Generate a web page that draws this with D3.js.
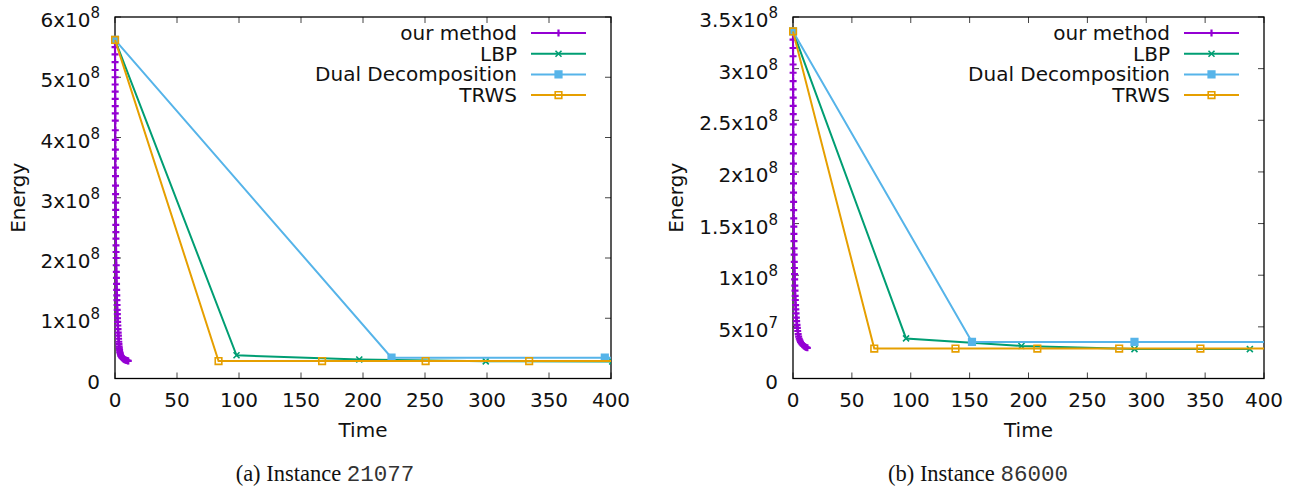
<!DOCTYPE html>
<html>
<head>
<meta charset="utf-8">
<script src="https://cdn.jsdelivr.net/npm/d3@7"></script>
<style>
  body { margin: 0; background: #fff; }
  svg text { font-family: "DejaVu Sans", sans-serif; fill: #111; }
</style>
</head>
<body>
<div id="chart"></div>
<script>
// ---- data (energy in units of 1e8) ----
var timeTicks = [0, 50, 100, 150, 200, 250, 300, 350, 400];
var energyTicksA = [0, 1, 2, 3, 4, 5, 6];
var energyTicksB = [0, 0.5, 1, 1.5, 2, 2.5, 3, 3.5];
var seriesNames = ["our method", "LBP", "Dual Decomposition", "TRWS"];
var seriesColors = ["#9400d3", "#009e73", "#56b4e9", "#e69f00"];
var seriesMarkers = ["plus", "cross", "fillSquare", "openSquare"];

// instance 21077: [time, energy]
var ourMethodA = [[0,5.62],[0.02,5.5],[0.04,5.38],[0.06,5.25],[0.08,5.12],[0.1,5.0],[0.12,4.88],[0.14,4.76],
  [0.16,4.64],[0.18,4.52],[0.2,4.4],[0.22,4.28],[0.25,4.12],[0.28,3.96],[0.31,3.8],[0.34,3.65],[0.37,3.5],
  [0.4,3.36],[0.44,3.2],[0.48,3.06],[0.52,2.92],[0.56,2.8],[0.6,2.68],[0.65,2.55],[0.7,2.43],[0.75,2.32],
  [0.8,2.21],[0.86,2.1],[0.92,2.0],[1.0,1.88],[1.08,1.77],[1.16,1.67],[1.25,1.57],[1.35,1.47],[1.45,1.38],
  [1.55,1.3],[1.66,1.22],[1.78,1.14],[1.9,1.07],[2.02,1.0],[2.15,0.94],[2.3,0.88],[2.45,0.82],[2.6,0.76],
  [2.75,0.71],[2.9,0.66],[3.05,0.61],[3.2,0.57],[3.35,0.53],[3.5,0.5],[3.7,0.47],[3.9,0.44],[4.1,0.42],
  [4.4,0.4],[4.7,0.38],[5.0,0.37],[5.4,0.355],[5.8,0.345],[6.3,0.335],[6.8,0.325],[7.3,0.318],[7.8,0.312],
  [8.4,0.306],[9.0,0.301],[9.6,0.297],[10.2,0.294],[10.7,0.291]];
var lbpA = [[0,5.62],[98,0.385],[197,0.315],[299,0.285],[401,0.283]];
var dualA = [[0,5.62],[223,0.345],[395,0.345],[600,0.345]];
var trwsA = [[0,5.62],[83.5,0.29],[167,0.29],[250.5,0.29],[334,0.29],[417.5,0.29]];

// instance 86000
var ourMethodB = [[0,3.36],[0.02,3.28],[0.04,3.2],[0.06,3.12],[0.08,3.04],[0.1,2.96],[0.12,2.88],[0.14,2.8],
  [0.16,2.72],[0.18,2.64],[0.2,2.56],[0.23,2.46],[0.26,2.36],[0.29,2.27],[0.32,2.18],[0.36,2.08],[0.4,1.98],
  [0.44,1.89],[0.48,1.8],[0.53,1.71],[0.58,1.63],[0.64,1.55],[0.7,1.47],[0.77,1.4],[0.84,1.33],[0.92,1.26],
  [1.0,1.2],[1.1,1.13],[1.2,1.07],[1.3,1.01],[1.42,0.96],[1.55,0.9],[1.7,0.85],[1.85,0.8],[2.0,0.76],
  [2.2,0.71],[2.4,0.67],[2.6,0.63],[2.85,0.59],[3.1,0.555],[3.4,0.52],[3.7,0.49],[4.0,0.46],[4.4,0.43],
  [4.8,0.405],[5.3,0.385],[5.8,0.37],[6.4,0.355],[7.0,0.343],[7.7,0.333],[8.4,0.324],[9.1,0.317],
  [9.8,0.311],[10.5,0.306],[11.3,0.301],[12.2,0.297]];
var lbpB = [[0,3.36],[96,0.388],[194,0.315],[290,0.285],[388,0.285]];
var dualB = [[0,3.36],[152,0.354],[290,0.354],[430,0.354]];
var trwsB = [[0,3.36],[69,0.29],[138,0.29],[207.5,0.29],[277,0.29],[346,0.29],[415,0.29]];

var W = 1299, H = 488;
var svg = d3.select("#chart").append("svg")
  .attr("width", W)
  .attr("height", H)
  .style("background", "#fff");

function markerPath(type, s) {
  if (type == "plus") return "M" + (-s) + ",0H" + s + "M0," + (-s) + "V" + s;
  if (type == "cross") return "M" + (-s) + "," + (-s) + "L" + s + "," + s + "M" + (-s) + "," + s + "L" + s + "," + (-s);
  return "M" + (-s) + "," + (-s) + "H" + s + "V" + s + "H" + (-s) + "Z";
}

function drawMarker(g, type, color, x, y) {
  var s = type == "plus" ? 3.5 : (type == "cross" ? 3 : 3.3);
  g.append("path")
    .attr("transform", "translate(" + x + "," + y + ")")
    .attr("d", markerPath(type, s))
    .attr("fill", type == "fillSquare" ? color : "none")
    .attr("stroke", color)
    .attr("stroke-width", type == "plus" ? 2.2 : 1.6);
}

// tick label like 3.5x10^8 (v in units of 1e8)
function tickLabel(sel, v) {
  if (v == 0) { sel.text("0"); return; }
  var val = v * 1e8;
  var e = Math.floor(Math.log10(val) + 1e-9);
  var m = +(val / Math.pow(10, e)).toFixed(1);
  sel.append("tspan").text(m + "x10");
  sel.append("tspan").attr("font-size", 15).attr("dy", -9).text(e);
}

function drawPanel(cfg) {
  var x = d3.scaleLinear().domain([0, 400]).range([cfg.left, cfg.right]);
  var y = d3.scaleLinear().domain([0, cfg.yMax]).range([cfg.bottom, cfg.top]);
  var g = svg.append("g");

  g.append("clipPath").attr("id", cfg.id + "clip")
    .append("rect")
    .attr("x", cfg.left - 4).attr("y", cfg.top)
    .attr("width", cfg.right - cfg.left + 4).attr("height", cfg.bottom - cfg.top);

  // ticks (inside, mirrored)
  timeTicks.forEach(function(t) {
    g.append("line").attr("x1", x(t)).attr("x2", x(t)).attr("y1", cfg.bottom).attr("y2", cfg.bottom - 6)
      .attr("stroke", "#444").attr("stroke-width", 1);
    g.append("line").attr("x1", x(t)).attr("x2", x(t)).attr("y1", cfg.top).attr("y2", cfg.top + 6)
      .attr("stroke", "#444").attr("stroke-width", 1);
    g.append("text")
      .attr("x", x(t)).attr("y", cfg.bottom + 28)
      .attr("text-anchor", "middle")
      .attr("font-size", 20)
      .text(t);
  });
  cfg.yTicks.forEach(function(v) {
    g.append("line").attr("x1", cfg.left).attr("x2", cfg.left + 6).attr("y1", y(v)).attr("y2", y(v))
      .attr("stroke", "#444").attr("stroke-width", 1);
    g.append("line").attr("x1", cfg.right).attr("x2", cfg.right - 6).attr("y1", y(v)).attr("y2", y(v))
      .attr("stroke", "#444").attr("stroke-width", 1);
    var tx = g.append("text")
      .attr("x", cfg.left - 15).attr("y", y(v) + 10)
      .attr("text-anchor", "end")
      .attr("font-size", 20);
    tickLabel(tx, v);
  });

  // border
  g.append("rect")
    .attr("x", cfg.left).attr("y", cfg.top)
    .attr("width", cfg.right - cfg.left).attr("height", cfg.bottom - cfg.top)
    .attr("fill", "none").attr("stroke", "#000").attr("stroke-width", 1.3);

  // series
  var plot = g.append("g").attr("clip-path", "url(#" + cfg.id + "clip)");
  var line = d3.line().x(function(d) { return x(d[0]); }).y(function(d) { return y(d[1]); });
  cfg.series.forEach(function(data, i) {
    plot.append("path")
      .attr("d", line(data))
      .attr("fill", "none")
      .attr("stroke", seriesColors[i])
      .attr("stroke-width", 2);
    data.forEach(function(d) {
      drawMarker(plot, seriesMarkers[i], seriesColors[i], x(d[0]), y(d[1]));
    });
  });

  // legend
  seriesNames.forEach(function(name, i) {
    var ly = cfg.top + 16 + i * 20.7;
    g.append("text")
      .attr("x", cfg.right - 94).attr("y", ly + 7)
      .attr("text-anchor", "end")
      .attr("font-size", 20)
      .text(name);
    g.append("line")
      .attr("x1", cfg.right - 80).attr("x2", cfg.right - 25)
      .attr("y1", ly).attr("y2", ly)
      .attr("stroke", seriesColors[i]).attr("stroke-width", 2);
    drawMarker(g, seriesMarkers[i], seriesColors[i], cfg.right - 52.5, ly);
  });

  // axis titles
  g.append("text")
    .attr("x", (cfg.left + cfg.right) / 2).attr("y", 437)
    .attr("text-anchor", "middle")
    .attr("font-size", 20)
    .text("Time");
  g.append("text")
    .attr("transform", "translate(" + cfg.ylabelX + "," + (cfg.top + cfg.bottom) / 2 + ") rotate(-90)")
    .attr("text-anchor", "middle")
    .attr("font-size", 20)
    .text("Energy");

  // caption
  var cap = g.append("text")
    .attr("x", cfg.capX).attr("y", 481)
    .attr("text-anchor", "middle")
    .style("font-family", "'Liberation Serif', 'Times New Roman', serif")
    .attr("font-size", 22.5);
  cap.append("tspan").text(cfg.capLabel + " ");
  cap.append("tspan")
    .style("font-family", "'Liberation Mono', 'Courier New', monospace")
    .style("fill", "#333")
    .text(cfg.capId);
}

drawPanel({
  id: "a", left: 115, right: 611, top: 17, bottom: 378.5,
  yMax: 6, yTicks: energyTicksA, ylabelX: 25,
  series: [ourMethodA, lbpA, dualA, trwsA],
  capX: 325, capLabel: "(a) Instance", capId: "21077"
});
drawPanel({
  id: "b", left: 793, right: 1264, top: 17, bottom: 378.5,
  yMax: 3.5, yTicks: energyTicksB, ylabelX: 683,
  series: [ourMethodB, lbpB, dualB, trwsB],
  capX: 978, capLabel: "(b) Instance", capId: "86000"
});
</script>
</body>
</html>
